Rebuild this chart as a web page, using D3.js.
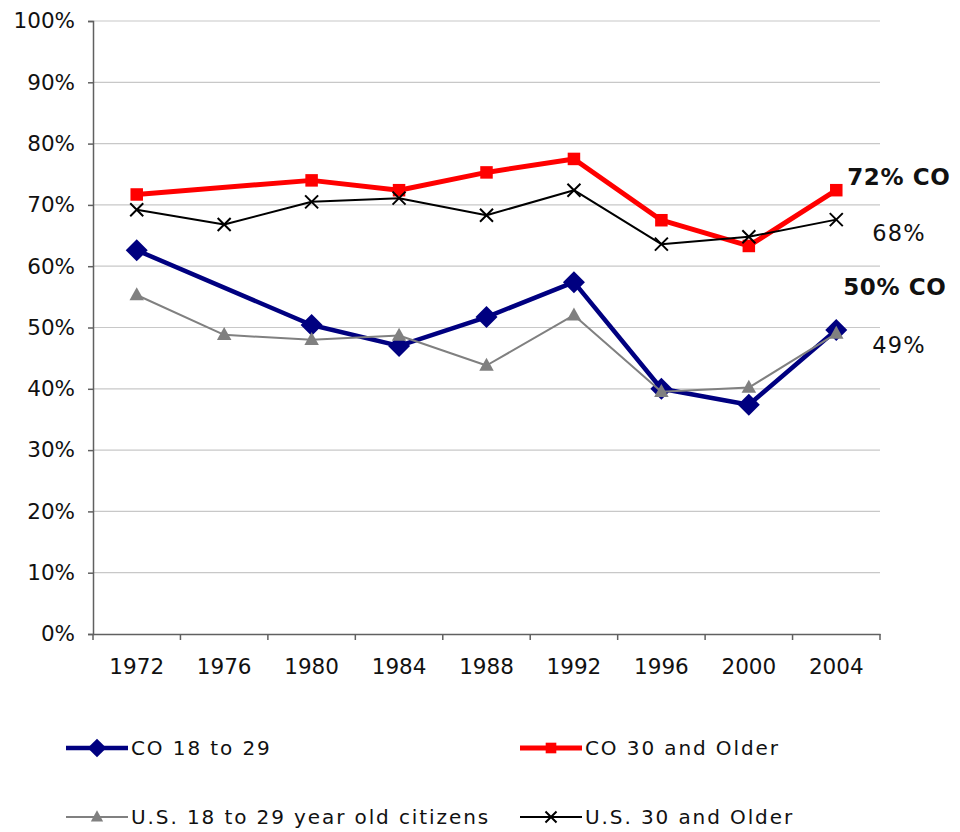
<!DOCTYPE html>
<html>
<head>
<meta charset="utf-8">
<script src="https://cdn.jsdelivr.net/npm/d3@7"></script>
<style>
  html, body { margin: 0; padding: 0; background: #fff; }
  svg { display: block; font-family: "DejaVu Sans", Verdana, sans-serif; }
</style>
</head>
<body>
<svg id="chart" width="960" height="832"></svg>
<script>
// ---- data ----
const years = ["1972", "1976", "1980", "1984", "1988", "1992", "1996", "2000", "2004"];
const coYoung = [0.626, null, 0.504, 0.470, 0.517, 0.574, 0.400, 0.374, 0.496];
const coOld   = [0.717, null, 0.740, 0.724, 0.753, 0.775, 0.675, 0.633, 0.724];
const usYoung = [0.553, 0.488, 0.480, 0.487, 0.438, 0.520, 0.395, 0.402, 0.490];
const usOld   = [0.692, 0.668, 0.705, 0.711, 0.683, 0.724, 0.636, 0.648, 0.676];
const seriesNames = ["CO 18 to 29", "CO 30 and Older", "U.S. 18 to 29 year old citizens", "U.S. 30 and Older"];
const yTicks = [0, 0.1, 0.2, 0.3, 0.4, 0.5, 0.6, 0.7, 0.8, 0.9, 1.0];
const endLabels = [
  { text: "72% CO", series: 1, bold: true },
  { text: "68%", series: 3, bold: false },
  { text: "50% CO", series: 0, bold: true },
  { text: "49%", series: 2, bold: false }
];

(function () {
// ---- layout ----
const svg = d3.select("#chart");
const plotLeft = 93, plotRight = 880, plotTop = 21, plotBottom = 634;
const x = d3.scaleBand().domain(years).range([plotLeft, plotRight]).padding(0);
const y = d3.scaleLinear().domain([0, 1]).range([plotBottom, plotTop]);
const cx = d => x(d) + x.bandwidth() / 2;

const styles = [
  { color: "#000080", width: 4.5, marker: "diamond" },
  { color: "#ff0000", width: 5, marker: "square" },
  { color: "#808080", width: 2, marker: "triangle" },
  { color: "#000000", width: 2, marker: "cross" }
];
const allSeries = [coYoung, coOld, usYoung, usOld];

// gridlines
svg.append("g").selectAll("line").data(yTicks.filter(t => t > 0)).join("line")
  .attr("x1", plotLeft).attr("x2", plotRight)
  .attr("y1", d => y(d)).attr("y2", d => y(d))
  .attr("stroke", "#c8c8c8").attr("stroke-width", 1.2);

// y axis
const yAxis = svg.append("g").attr("transform", `translate(${plotLeft},0)`)
  .call(d3.axisLeft(y).tickValues(yTicks).tickFormat(d3.format(".0%")).tickSize(5).tickPadding(13));
yAxis.select(".domain").attr("stroke", "#606060").attr("stroke-width", 1.5);
yAxis.selectAll(".tick line").attr("stroke", "#606060").attr("stroke-width", 1.5);
yAxis.selectAll("text").attr("font-size", 21.5).attr("fill", "#111")
  .attr("font-family", "DejaVu Sans, Verdana, sans-serif");

// x axis
const xAxis = svg.append("g").attr("transform", `translate(0,${plotBottom})`)
  .call(d3.axisBottom(x).tickSize(0).tickPadding(25));
xAxis.select(".domain").attr("stroke", "#606060").attr("stroke-width", 1.5);
xAxis.selectAll("text").attr("font-size", 21.5).attr("fill", "#111")
  .attr("font-family", "DejaVu Sans, Verdana, sans-serif");
// boundary ticks
const bounds = years.map(d => x(d)).concat([x(years[years.length - 1]) + x.bandwidth()]);
xAxis.append("g").selectAll("line").data(bounds).join("line")
  .attr("x1", d => d).attr("x2", d => d).attr("y1", 0).attr("y2", 6)
  .attr("stroke", "#606060").attr("stroke-width", 1.5);

// markers
function drawMarker(g, type, px, py, color, scale = 1) {
  if (type === "diamond") {
    const r = 11 * scale;
    g.append("path").attr("d", `M${px},${py - r}L${px + r},${py}L${px},${py + r}L${px - r},${py}Z`).attr("fill", color);
  } else if (type === "square") {
    const s = 12.5 * scale;
    g.append("rect").attr("x", px - s / 2).attr("y", py - s / 2).attr("width", s).attr("height", s).attr("fill", color);
  } else if (type === "triangle") {
    const w = 14.5 * scale, h = 13 * scale;
    g.append("path").attr("d", `M${px},${py - h * 0.6}L${px + w / 2},${py + h * 0.4}L${px - w / 2},${py + h * 0.4}Z`).attr("fill", color);
  } else if (type === "cross") {
    const r = 6.5 * scale;
    g.append("path").attr("d", `M${px - r},${py - r}L${px + r},${py + r}M${px - r},${py + r}L${px + r},${py - r}`)
      .attr("stroke", color).attr("stroke-width", 2).attr("fill", "none");
  }
}

const line = d3.line().x(d => cx(d.year)).y(d => y(d.v));
allSeries.forEach((vals, i) => {
  const st = styles[i];
  const pts = years.map((yr, j) => ({ year: yr, v: vals[j] })).filter(d => d.v !== null);
  const g = svg.append("g");
  g.append("path").datum(pts).attr("d", line)
    .attr("fill", "none").attr("stroke", st.color).attr("stroke-width", st.width)
    .attr("stroke-linejoin", "round");
  pts.forEach(p => drawMarker(g, st.marker, cx(p.year), y(p.v), st.color));
});

// end labels
const lastYear = years[years.length - 1];
const labelOffsets = [
  { dx: 11, dy: -5 },   // 72% CO
  { dx: 36, dy: 21 },   // 68%
  { dx: 7, dy: -35 },   // 50% CO
  { dx: 36, dy: 19 }    // 49%
];
endLabels.forEach((l, i) => {
  const v = allSeries[l.series][years.length - 1];
  svg.append("text")
    .attr("x", cx(lastYear) + labelOffsets[i].dx)
    .attr("y", y(v) + labelOffsets[i].dy)
    .attr("font-size", l.bold ? 23 : 22.5)
    .attr("letter-spacing", l.bold ? 0.6 : 1.2)
    .attr("font-weight", l.bold ? "bold" : "normal")
    .attr("fill", "#111")
    .text(l.text);
});

// legend
const legendPos = [
  { x: 66, y: 748 }, { x: 520, y: 748 }, { x: 66, y: 817 }, { x: 520, y: 817 }
];
seriesNames.forEach((name, i) => {
  const st = styles[i];
  const p = legendPos[i];
  const g = svg.append("g");
  g.append("line").attr("x1", p.x).attr("x2", p.x + 62).attr("y1", p.y).attr("y2", p.y)
    .attr("stroke", st.color).attr("stroke-width", st.width);
  drawMarker(g, st.marker, p.x + 31, p.y, st.color, 0.85);
  g.append("text").attr("x", p.x + 65).attr("y", p.y).attr("dy", "0.35em")
    .attr("font-size", 20).attr("letter-spacing", 1.9).attr("fill", "#111")
    .text(name);
});
})();
</script>
</body>
</html>
